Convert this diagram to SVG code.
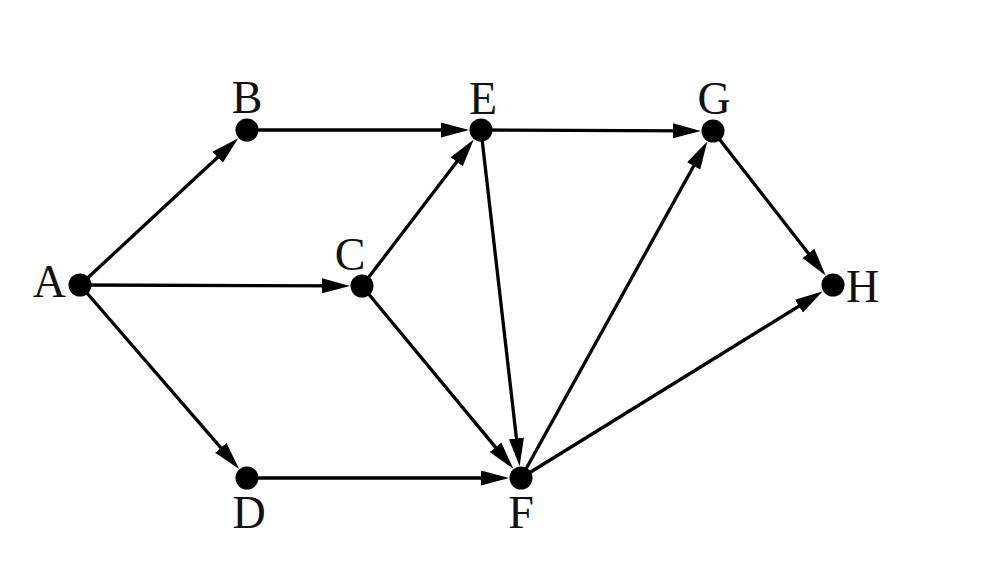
<svg xmlns="http://www.w3.org/2000/svg" width="986" height="570" viewBox="0 0 986 570">
<style>
.e{stroke:#000;stroke-width:3.3;fill:none;marker-end:url(#ah)}
.n{fill:#000}
.l{font-family:"Liberation Serif","Times New Roman",serif;font-size:46px;fill:#111}
</style>
<defs>
<marker id="ah" markerUnits="userSpaceOnUse" markerWidth="30" markerHeight="16" refX="18" refY="7.5" orient="auto">
<path d="M0,0 L28,7.5 L0,15 z" fill="#000"/>
</marker>
</defs>
<rect width="986" height="570" fill="#fff"/>
<g id="connectors">
<line class="e" x1="80" y1="285" x2="230.9" y2="145"/>
<line class="e" x1="80" y1="285" x2="340" y2="285.9"/>
<line class="e" x1="80" y1="285" x2="232.6" y2="461.4"/>
<line class="e" x1="247" y1="130" x2="459" y2="130"/>
<line class="e" x1="362" y1="286" x2="467.7" y2="147.5"/>
<line class="e" x1="362" y1="286" x2="507" y2="461.1"/>
<line class="e" x1="247" y1="478" x2="499" y2="478"/>
<line class="e" x1="481" y1="130" x2="691" y2="130.9"/>
<line class="e" x1="481" y1="130" x2="518.5" y2="456.2"/>
<line class="e" x1="521" y1="478" x2="702.4" y2="150.2"/>
<line class="e" x1="521" y1="478" x2="814.3" y2="296.6"/>
<line class="e" x1="713" y1="131" x2="819.5" y2="267.6"/>
</g>
<g id="A"><circle class="n" cx="80" cy="285" r="11.5"/><text class="l" x="66" y="297" text-anchor="end">A</text></g>
<g id="B"><circle class="n" cx="247" cy="130" r="11.5"/><text class="l" x="247" y="113" text-anchor="middle">B</text></g>
<g id="C"><circle class="n" cx="362" cy="286" r="11.5"/><text class="l" x="350" y="270" text-anchor="middle">C</text></g>
<g id="D"><circle class="n" cx="247" cy="478" r="11.5"/><text class="l" x="249" y="528" text-anchor="middle">D</text></g>
<g id="E"><circle class="n" cx="481" cy="130" r="11.5"/><text class="l" x="483" y="114" text-anchor="middle">E</text></g>
<g id="F"><circle class="n" cx="521" cy="478" r="11.5"/><text class="l" x="521" y="528" text-anchor="middle">F</text></g>
<g id="G"><circle class="n" cx="713" cy="131" r="11.5"/><text class="l" x="714" y="114" text-anchor="middle">G</text></g>
<g id="H"><circle class="n" cx="833" cy="285" r="11.5"/><text class="l" x="846" y="302" text-anchor="start">H</text></g>
</svg>
